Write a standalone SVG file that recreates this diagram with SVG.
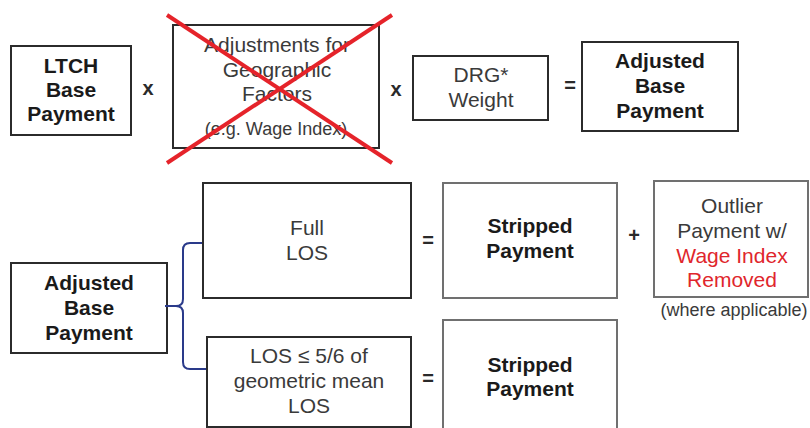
<svg xmlns="http://www.w3.org/2000/svg" width="810" height="428" viewBox="0 0 810 428">
<style>
.box{fill:#fff;stroke:#2b2b2b;stroke-width:2}
.gbox{fill:#fff;stroke:#707070;stroke-width:2}
text{font-family:"Liberation Sans",Arial,sans-serif;text-anchor:middle}
.b{font-weight:bold;font-size:21px;fill:#1a1a1a}
.n{font-size:21px;fill:#3a3a3a}
.s{font-size:18px;fill:#3a3a3a}
.r{fill:#e0262c}
.op{font-weight:bold;font-size:20px;fill:#2a2a2a}
</style>
<rect width="810" height="428" fill="#fff"/>
<g id="ltch">
<rect class="box" x="11" y="46" width="120" height="89"/>
<text class="b" x="71" y="73">LTCH</text>
<text class="b" x="71" y="97">Base</text>
<text class="b" x="71" y="121">Payment</text>
</g>
<text class="op" x="148" y="95">x</text>
<g id="adjustments">
<rect class="box" x="173" y="25" width="206" height="123"/>
<text class="n" x="277" y="52">Adjustments for</text>
<text class="n" x="277" y="77">Geographic</text>
<text class="n" x="277" y="101">Factors</text>
<text class="s" x="276" y="135">(e.g. Wage Index)</text>
<line x1="167" y1="15" x2="392" y2="163" stroke="#e5232a" stroke-width="4"/>
<line x1="392" y1="15" x2="167" y2="163" stroke="#e5232a" stroke-width="4"/>
</g>
<text class="op" x="396" y="96">x</text>
<g id="drg">
<rect class="box" x="413" y="56" width="135" height="64"/>
<text class="n" x="481" y="82">DRG*</text>
<text class="n" x="481" y="107">Weight</text>
</g>
<text class="op" x="570" y="92">=</text>
<g id="adjusted-top">
<rect class="box" x="582" y="42" width="156" height="89"/>
<text class="b" x="660" y="68">Adjusted</text>
<text class="b" x="660" y="93">Base</text>
<text class="b" x="660" y="118">Payment</text>
</g>
<g id="adjusted-bottom">
<rect class="box" x="11" y="263" width="156" height="90"/>
<text class="b" x="89" y="290">Adjusted</text>
<text class="b" x="89" y="315">Base</text>
<text class="b" x="89" y="340">Payment</text>
</g>
<g id="connectors">
<path d="M165 306 L176 306 Q183 306 183 299 L183 250 Q183 243 190 243 L203 243 M176 306 Q183 306 183 313 L183 362 Q183 369 190 369 L207 369" fill="none" stroke="#2a3a8a" stroke-width="2"/>
</g>
<g id="full-los">
<rect class="box" x="203" y="183" width="208" height="115"/>
<text class="n" x="307" y="235">Full</text>
<text class="n" x="307" y="260">LOS</text>
</g>
<g id="los-short">
<rect class="box" x="207" y="337" width="204" height="90"/>
<text class="n" x="309" y="363">LOS ≤ 5/6 of</text>
<text class="n" x="309" y="388">geometric mean</text>
<text class="n" x="309" y="413">LOS</text>
</g>
<text class="op" x="428" y="247">=</text>
<g id="stripped-1">
<rect class="gbox" x="443" y="183" width="174" height="115"/>
<text class="b" x="530" y="233">Stripped</text>
<text class="b" x="530" y="258">Payment</text>
</g>
<text class="op" x="634" y="242">+</text>
<g id="outlier">
<rect class="gbox" x="654" y="181" width="154" height="116"/>
<text class="n" x="732" y="213">Outlier</text>
<text class="n" x="732" y="238">Payment w/</text>
<text class="n r" x="732" y="263">Wage Index</text>
<text class="n r" x="732" y="287">Removed</text>
<text class="s" x="734" y="316">(where applicable)</text>
</g>
<text class="op" x="428" y="385">=</text>
<g id="stripped-2">
<rect class="gbox" x="443" y="320" width="174" height="120"/>
<text class="b" x="530" y="372">Stripped</text>
<text class="b" x="530" y="396">Payment</text>
</g>
</svg>
